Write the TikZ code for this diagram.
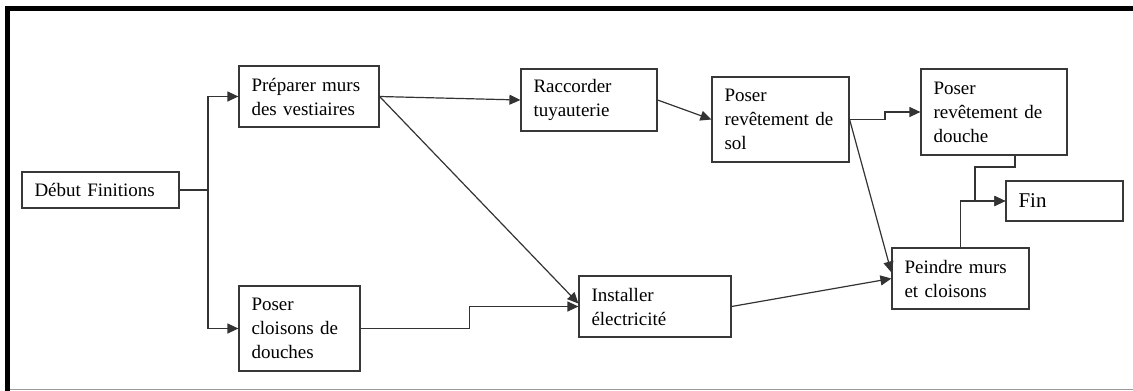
\documentclass[tikz,border=0pt]{standalone}
\usepackage{fontspec}
\setmainfont{Liberation Serif}
\usetikzlibrary{arrows.meta,calc}

\begin{document}
\begin{tikzpicture}[x=1pt,y=-1pt,
  tbox/.style={draw=black!78, line width=1.2pt, rectangle, inner xsep=12.5pt,
    inner ysep=2pt, align=left, font=\fontsize{19}{24}\selectfont},
  link/.style={draw=black!80, line width=1.2pt},
  arr/.style={link, -{Triangle[length=11pt,width=10pt]}}]

% page area and frame
\useasboundingbox (0,0) rectangle (1133,391);
\fill[black] (5,6) rectangle (1133,11);
\fill[black] (5,6) rectangle (10,391);
\draw[black!40, line width=1.2pt] (10,389.5) -- (1133,389.5);

% tasks
\node[tbox, minimum height=36pt, text width=132pt] (deb) at (100.5,190) {Début Finitions};
\node[tbox, minimum height=61pt, text width=115pt] (prep) at (309,96.5) {Préparer murs\\des vestiaires};
\node[tbox, minimum height=85pt, text width=96pt] (clois) at (299.5,328.5) {Poser\\cloisons de\\douches};
\node[tbox, minimum height=62pt, text width=111pt] (racc) at (589,100) {Raccorder\\tuyauterie};
\node[tbox, minimum height=85pt, text width=112pt] (sol) at (780.5,119.5) {Poser\\revêtement de\\sol};
\node[tbox, minimum height=86pt, text width=121pt] (douche) at (994,112) {Poser\\revêtement de\\douche};
\node[tbox, minimum height=61pt, text width=127pt] (inst) at (655,306.5) {Installer\\électricité};
\node[tbox, minimum height=61pt, text width=112pt] (peint) at (960.5,278.5) {Peindre murs\\et cloisons};
\node[tbox, minimum height=40pt, text width=92pt, font=\fontsize{21}{24}\selectfont] (fin) at (1064.5,201) {Fin};

% routing points
\coordinate (split) at (208,190);
\coordinate (m5) at ($(clois.east)!.5!(inst.west)$);
\coordinate (m7) at ($(sol.east)!.5!(douche.west)$);
\coordinate (d10) at (975,167);

% dependencies
\draw[link] (deb.east) -- (split);
\draw[arr] (split) |- (prep.west);
\draw[arr] (split) |- (clois.west);
\draw[arr] (prep.east) -- (racc.west);
\draw[arr] (prep.east) -- ([yshift=3pt]inst.west);
\draw[arr] (clois.east) -| (m5) |- (inst.west);
\draw[arr] (racc.east) -- (sol.west);
\draw[arr] (sol.east) -| (m7) |- (douche.west);
\draw[arr] (sol.east) -- ([yshift=6pt]peint.west);
\draw[arr] (inst.east) -- (peint.west);
\draw[arr] ([xshift=21pt]douche.south) |- (d10) |- (fin.west);
\draw[arr] (peint.north) |- (fin.west);
\end{tikzpicture}
\end{document}
